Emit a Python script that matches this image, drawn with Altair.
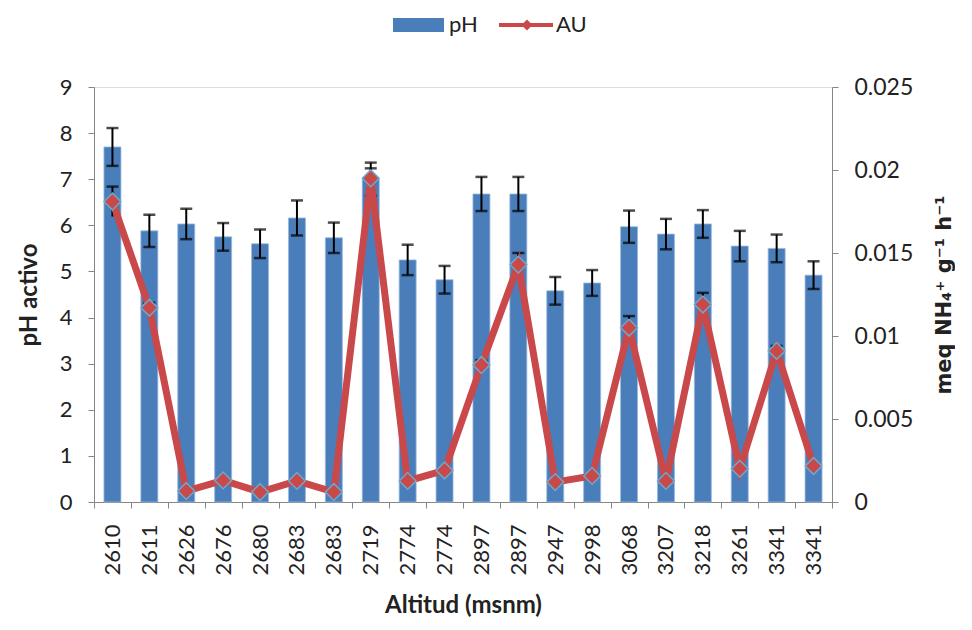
import altair as alt
import pandas as pd

altitud = ["2610", "2611", "2626", "2676", "2680", "2683", "2683", "2719", "2774", "2774",
           "2897", "2897", "2947", "2998", "3068", "3207", "3218", "3261", "3341", "3341"]
ph = [7.70, 5.88, 6.03, 5.75, 5.60, 6.16, 5.73, 7.00, 5.25, 4.82,
      6.68, 6.68, 4.58, 4.75, 5.97, 5.81, 6.03, 5.55, 5.50, 4.92]
ph_err = [0.41, 0.35, 0.33, 0.30, 0.31, 0.38, 0.33, 0.36, 0.33, 0.30,
          0.37, 0.37, 0.30, 0.28, 0.35, 0.33, 0.30, 0.33, 0.30, 0.30]
au = [0.0181, 0.0117, 0.00066, 0.0013, 0.0006, 0.00127, 0.0006, 0.0195, 0.00127, 0.0019,
      0.00825, 0.0143, 0.0012, 0.00157, 0.0105, 0.00127, 0.0119, 0.0020, 0.0091, 0.00217]
au_err = [0.0009, 0.0003, 0.0001, 0.0001, 0.0001, 0.0001, 0.0001, 0.0006, 0.0001, 0.0001,
          0.0003, 0.0007, 0.0001, 0.0001, 0.0007, 0.0001, 0.0007, 0.0001, 0.0003, 0.0001]
legend_labels = ["pH", "AU"]

FONT = "Lato"
BLUE = "#4a7ebb"
RED = "#c9484a"
TXT = "#222222"
AX = "#868686"

df = pd.DataFrame({
    "i": list(range(len(altitud))),
    "alt": altitud,
    "ph": ph,
    "ph_lo": [p - e for p, e in zip(ph, ph_err)],
    "ph_hi": [p + e for p, e in zip(ph, ph_err)],
    "au": au,
    "au_lo": [a - e for a, e in zip(au, au_err)],
    "au_hi": [a + e for a, e in zip(au, au_err)],
})

label_expr = "[" + ",".join(f"'{a}'" for a in altitud) + "][datum.value]"

x = alt.X("i:O", scale=alt.Scale(paddingInner=0, paddingOuter=0),
          axis=alt.Axis(title="Altitud (msnm)", labelExpr=label_expr, labelAngle=270,
                        tickBand="extent", labelFontSize=22, titleFontSize=24,
                        titleFontWeight="bold", labelPadding=16, titlePadding=18,
                        domainColor=AX, tickColor=AX, tickSize=6,
                        labelColor=TXT, titleColor=TXT))

yl_scale = alt.Scale(domain=[0, 9])
yl_axis = alt.Axis(title="pH activo", values=list(range(10)), grid=False,
                   labelFontSize=22, titleFontSize=24, titleFontWeight="bold",
                   domainColor=AX, tickColor=AX, tickSize=6,
                   labelPadding=16, titlePadding=18, labelColor=TXT, titleColor=TXT)

base = alt.Chart(df)

bars = base.mark_bar(size=17, color=BLUE, stroke="#9cb9de", strokeWidth=0.8).encode(
    x=x, y=alt.Y("ph:Q", scale=yl_scale, axis=yl_axis))
err_rule = base.mark_rule(color="black", strokeWidth=2).encode(
    x=x, y=alt.Y("ph_lo:Q", scale=yl_scale), y2="ph_hi:Q")
err_top = base.mark_tick(color="black", size=12, thickness=2.5).encode(
    x=x, y=alt.Y("ph_hi:Q", scale=yl_scale))
err_bot = base.mark_tick(color="black", size=12, thickness=2.5).encode(
    x=x, y=alt.Y("ph_lo:Q", scale=yl_scale))
left = alt.layer(bars, err_rule, err_top, err_bot)

yr_scale = alt.Scale(domain=[0, 0.025])
yr_axis = alt.Axis(title="meq NH₄⁺ g⁻¹ h⁻¹", orient="right",
                   values=[0, 0.005, 0.01, 0.015, 0.02, 0.025],
                   format="~g", grid=False, labelFontSize=23, titleFontSize=21,
                   titleFont="DejaVu Sans", titleFontWeight="bold", titleAngle=270,
                   domainColor=AX, tickColor=AX, tickSize=6, labelPadding=16,
                   titlePadding=42, labelColor=TXT, titleColor=TXT)

au_rule = base.mark_rule(color="black", strokeWidth=2).encode(
    x=x, y=alt.Y("au_lo:Q", scale=yr_scale), y2="au_hi:Q")
au_top = base.mark_tick(color="black", size=12, thickness=2.5).encode(
    x=x, y=alt.Y("au_hi:Q", scale=yr_scale))
line = base.mark_line(color=RED, strokeWidth=7).encode(
    x=x, y=alt.Y("au:Q", scale=yr_scale, axis=yr_axis))
pts = base.mark_point(shape="diamond", filled=True, size=280, color=RED, opacity=1,
                      stroke="#6fa8c8", strokeWidth=1.5).encode(
    x=x, y=alt.Y("au:Q", scale=yr_scale))
right = alt.layer(au_rule, au_top, line, pts)

one = pd.DataFrame({"t": [0]})
LY = -62
leg_rect = alt.Chart(one).mark_rect(color=BLUE).encode(
    x=alt.value(299), x2=alt.value(350), y=alt.value(LY - 7), y2=alt.value(LY + 7))
leg_t1 = alt.Chart(one).mark_text(text=legend_labels[0], align="left", baseline="middle",
                                  fontSize=22, font=FONT, color=TXT).encode(
    x=alt.value(355), y=alt.value(LY))
leg_line = alt.Chart(one).mark_rule(color=RED, strokeWidth=4).encode(
    x=alt.value(405), x2=alt.value(459), y=alt.value(LY))
leg_pt = alt.Chart(one).mark_point(shape="diamond", filled=True, size=120, color=RED,
                                   opacity=1).encode(
    x=alt.value(433), y=alt.value(LY))
leg_t2 = alt.Chart(one).mark_text(text=legend_labels[1], align="left", baseline="middle",
                                  fontSize=22, font=FONT, color=TXT).encode(
    x=alt.value(462), y=alt.value(LY))

chart = alt.layer(left, right, leg_rect, leg_t1, leg_line, leg_pt, leg_t2).resolve_scale(
    y="independent"
).properties(
    width=738, height=415, background="white",
    padding={"left": 9, "top": 6, "right": 0, "bottom": 0}
).configure_view(stroke=None).configure(font=FONT)

chart.save("out.html", embed_options={"renderer": "svg", "actions": False})
